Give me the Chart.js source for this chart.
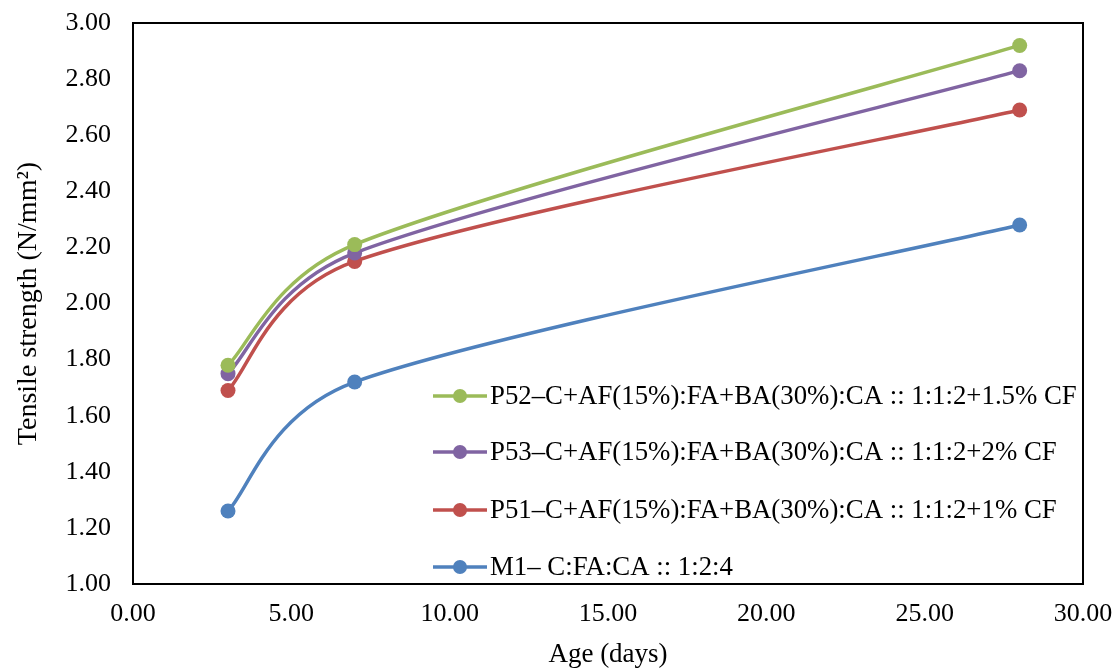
<!DOCTYPE html>
<html>
<head>
<meta charset="utf-8">
<script src="https://cdn.jsdelivr.net/npm/chart.js@4.4.1/dist/chart.umd.min.js"></script>
<style>
  html, body { margin: 0; padding: 0; background: #ffffff; }
  #wrap { width: 1115px; height: 668px; }
</style>
</head>
<body>
<div id="wrap"><canvas id="c" width="1115" height="668"></canvas></div>
<script>
// ---- data ----
const ages = [3, 7, 28];
const seriesNames = [
  'P52\u2013C+AF(15%):FA+BA(30%):CA :: 1:1:2+1.5% CF',
  'P53\u2013C+AF(15%):FA+BA(30%):CA :: 1:1:2+2% CF',
  'P51\u2013C+AF(15%):FA+BA(30%):CA :: 1:1:2+1% CF',
  'M1\u2013 C:FA:CA :: 1:2:4'
];
const p52 = [1.78, 2.21, 2.92];
const p53 = [1.75, 2.18, 2.83];
const p51 = [1.69, 2.15, 2.69];
const m1  = [1.26, 1.72, 2.28];
const seriesColors = ['#9BBB59', '#8064A2', '#C0504D', '#4F81BD'];
const yTitle = 'Tensile strength (N/mm\u00B2)';
const xTitle = 'Age (days)';

const seriesValues = [p52, p53, p51, m1];
const FONT = '"Liberation Serif", "Times New Roman", serif';

const datasets = seriesValues.map((vals, i) => ({
  label: seriesNames[i],
  data: ages.map((a, j) => ({ x: a, y: vals[j] })),
  borderColor: seriesColors[i],
  backgroundColor: seriesColors[i],
  pointBackgroundColor: seriesColors[i],
  pointBorderColor: seriesColors[i],
  borderWidth: 3.5,
  pointRadius: 7.5,
  pointBorderWidth: 0,
  tension: 0.4,
  fill: false
}));

// Excel-style smoothing: control points along (next - prev), length L/6,
// limited to half of the adjacent segment
const excelSmooth = {
  id: 'excelSmooth',
  beforeDatasetDraw(chart, args) {
    const meta = args.meta;
    const pts = meta.data;
    const n = pts.length;
    for (let i = 0; i < n; i++) {
      const p = pts[i];
      const prev = pts[Math.max(0, i - 1)];
      const next = pts[Math.min(n - 1, i + 1)];
      const vx = next.x - prev.x, vy = next.y - prev.y;
      const L = Math.hypot(vx, vy) || 1;
      const dPrev = Math.hypot(p.x - prev.x, p.y - prev.y);
      const dNext = Math.hypot(next.x - p.x, next.y - p.y);
      const lp = Math.min(L / 6, dPrev / 2);
      const ln = Math.min(L / 6, dNext / 2);
      p.cp1x = p.x - vx / L * lp; p.cp1y = p.y - vy / L * lp;
      p.cp2x = p.x + vx / L * ln; p.cp2y = p.y + vy / L * ln;
    }
    meta.dataset._pointsUpdated = true;
    meta.dataset._path = undefined;
  }
};

const frame = {
  id: 'frame',
  afterDatasetsDraw(chart) {
    const a = chart.chartArea;
    const ctx = chart.ctx;
    ctx.save();
    ctx.strokeStyle = '#000000';
    ctx.lineWidth = 2;
    ctx.strokeRect(a.left, a.top, a.right - a.left, a.bottom - a.top);
    ctx.restore();
  }
};

const customLegend = {
  id: 'customLegend',
  afterDraw(chart, args, opts) {
    const ctx = chart.ctx;
    ctx.save();
    ctx.font = opts.fontSize + 'px ' + FONT;
    ctx.textBaseline = 'middle';
    ctx.textAlign = 'left';
    chart.data.datasets.forEach((ds, i) => {
      const y = opts.rows[i];
      ctx.strokeStyle = ds.borderColor;
      ctx.lineWidth = 3.5;
      ctx.beginPath();
      ctx.moveTo(opts.x0, y);
      ctx.lineTo(opts.x1, y);
      ctx.stroke();
      ctx.fillStyle = ds.borderColor;
      ctx.beginPath();
      ctx.arc((opts.x0 + opts.x1) / 2, y, 7, 0, Math.PI * 2);
      ctx.fill();
      ctx.fillStyle = '#000000';
      ctx.fillText(ds.label, opts.tx, y + 1);
    });
    ctx.restore();
  }
};

new Chart(document.getElementById('c'), {
  type: 'line',
  data: { datasets },
  plugins: [excelSmooth, frame, customLegend],
  options: {
    responsive: false,
    animation: false,
    layout: { padding: { left: 15, right: 32, top: 23, bottom: 0 } },
    plugins: {
      legend: { display: false },
      tooltip: { enabled: false },
      customLegend: { x0: 433, x1: 487, tx: 490, rows: [396, 452, 510, 567], fontSize: 26.8 }
    },
    scales: {
      x: {
        type: 'linear',
        min: 0, max: 30,
        grid: { display: false, drawTicks: false, tickLength: 0 },
        border: { display: false },
        afterFit(scale) {
          scale.height = 84;
          scale.paddingLeft = 0; scale.paddingRight = 0;
        },
        ticks: {
          stepSize: 5,
          padding: 15,
          color: '#000000',
          font: { family: FONT, size: 26 },
          maxRotation: 0,
          callback: v => Number(v).toFixed(2)
        },
        title: {
          display: true,
          text: xTitle,
          color: '#000000',
          font: { family: FONT, size: 27, lineHeight: 1.0 },
          padding: { top: 0, bottom: 0 }
        }
      },
      y: {
        type: 'linear',
        min: 1, max: 3,
        grid: { display: false, drawTicks: false, tickLength: 0 },
        border: { display: false },
        afterFit(scale) {
          scale.width = 118;
          scale.paddingTop = 0; scale.paddingBottom = 0;
        },
        ticks: {
          stepSize: 0.2,
          padding: 22,
          color: '#000000',
          font: { family: FONT, size: 26 },
          callback: v => Number(v).toFixed(2)
        },
        title: {
          display: true,
          text: yTitle,
          color: '#000000',
          font: { family: FONT, size: 28, lineHeight: 1.0 },
          padding: { top: 0, bottom: 0 }
        }
      }
    }
  }
});
</script>
</body>
</html>
